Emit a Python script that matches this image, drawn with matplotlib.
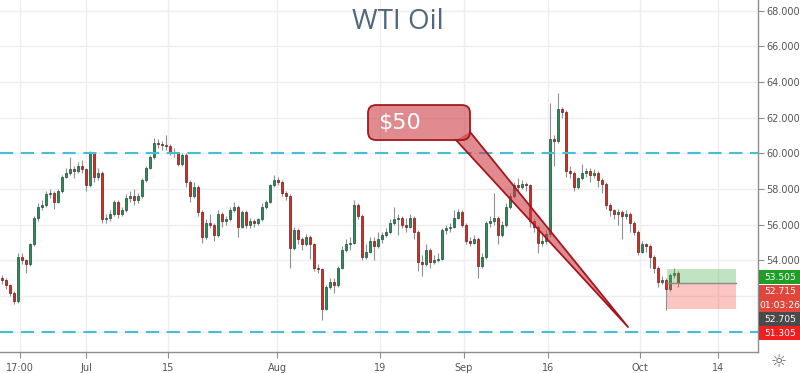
import matplotlib
matplotlib.use('Agg')
import matplotlib.pyplot as plt
from matplotlib.patches import FancyBboxPatch, Polygon, Rectangle
import numpy as np

plt.rcParams['lines.scale_dashes'] = False

# WTI crude, roughly 2 bars per trading day
first_open = 53.0
closes = [52.9, 52.6, 52.2, 51.7, 54.2, 54.0, 53.8, 54.9, 56.4, 57.0,
          57.1, 57.7, 57.8, 57.3, 57.9, 58.7, 58.9, 59.1, 59.0, 59.3,
          59.1, 58.2, 60.0, 58.7, 58.9, 56.3, 56.4, 56.6, 57.3, 56.6,
          56.8, 57.5, 57.6, 57.4, 57.6, 58.5, 59.2, 59.8, 60.6, 60.5,
          60.45, 60.4, 60.1, 60.0, 59.4, 59.9, 58.4, 57.6, 58.1, 56.7,
          55.3, 56.1, 56.0, 55.4, 56.6, 56.2, 56.3, 56.8, 57.0, 55.9,
          56.7, 56.0, 56.2, 56.1, 56.3, 57.0, 57.3, 58.2, 58.5, 58.4,
          57.8, 57.6, 54.7, 55.7, 55.2, 54.9, 55.3, 54.9, 53.6, 53.5,
          51.3, 52.5, 52.8, 52.6, 53.6, 54.6, 54.9, 55.0, 57.1, 56.5,
          54.2, 54.5, 55.1, 54.8, 55.2, 55.4, 55.6, 56.1, 56.3, 56.4,
          56.0, 55.9, 56.4, 55.6, 53.9, 53.8, 54.6, 53.9, 54.0, 54.1,
          55.7, 55.8, 55.9, 56.4, 56.7, 56.0, 55.1, 55.0, 55.2, 53.7,
          54.2, 56.1, 56.2, 56.4, 55.4, 56.0, 57.0, 57.6, 58.2, 58.1,
          58.3, 58.2, 56.2, 55.9, 55.0, 55.1, 55.5, 60.8, 60.7, 62.5,
          62.3, 59.0, 58.9, 58.1, 58.6, 58.9, 59.0, 58.8, 58.9, 58.5,
          58.3, 57.1, 56.8, 56.6, 56.7, 56.5, 56.6, 56.1, 55.6, 54.5,
          54.9, 54.8, 54.2, 53.6, 52.8, 52.9, 52.4, 53.2, 53.3, 52.715]
highs = [53.2, 53.0, 52.7, 52.3, 54.4, 54.4, 54.1, 55.0, 56.5, 57.2,
         57.4, 57.9, 58.0, 57.9, 58.0, 58.8, 59.2, 59.8, 59.3, 59.5,
         59.6, 59.2, 60.15, 60.0, 59.2, 59.0, 56.6, 56.8, 57.4, 57.4,
         57.0, 57.7, 57.9, 58.0, 57.8, 58.6, 59.3, 59.9, 60.85, 60.8,
         60.7, 61.0, 60.5, 60.3, 60.1, 60.0, 60.0, 58.5, 58.4, 58.2,
         56.8, 56.3, 56.6, 56.1, 56.8, 56.7, 56.5, 57.0, 57.3, 57.1,
         56.8, 56.8, 56.4, 56.3, 56.4, 57.2, 57.4, 58.3, 58.8, 58.7,
         58.5, 57.9, 57.7, 55.9, 55.8, 55.3, 55.5, 55.4, 55.0, 53.8,
         53.6, 52.6, 53.0, 53.0, 53.7, 54.8, 55.2, 55.3, 57.4, 57.2,
         56.6, 54.9, 55.3, 55.3, 55.6, 55.6, 55.8, 56.3, 57.0, 56.6,
         56.5, 56.4, 56.6, 56.5, 55.7, 54.3, 54.9, 54.7, 54.3, 54.4,
         55.8, 56.0, 56.1, 56.8, 56.9, 56.8, 56.1, 55.3, 55.4, 55.3,
         54.4, 56.2, 56.5, 57.8, 56.5, 56.2, 57.2, 57.8, 58.4, 58.6,
         58.5, 58.4, 58.3, 56.3, 56.0, 55.4, 55.7, 62.8, 61.0, 63.4,
         62.6, 62.4, 59.3, 59.0, 58.7, 59.4, 59.2, 59.2, 59.1, 59.0,
         58.6, 58.4, 57.2, 56.9, 56.9, 56.8, 56.8, 56.7, 56.2, 55.7,
         55.1, 55.0, 54.9, 54.3, 53.7, 53.1, 53.0, 53.3, 53.6, 53.4]
lows = [52.7, 52.4, 52.0, 51.55, 51.6, 53.8, 53.3, 53.7, 54.8, 56.2,
        56.8, 57.0, 57.5, 56.9, 57.2, 57.8, 58.6, 58.8, 58.6, 58.9,
        58.9, 57.9, 58.1, 58.4, 58.5, 56.1, 56.1, 56.2, 56.5, 56.4,
        56.5, 56.7, 57.3, 57.1, 57.2, 57.5, 58.4, 59.1, 59.7, 60.3,
        60.2, 60.2, 59.9, 59.8, 59.3, 59.3, 58.1, 57.3, 57.5, 56.5,
        55.0, 55.2, 55.8, 55.1, 55.3, 55.9, 56.0, 56.2, 56.7, 55.3,
        55.8, 55.8, 55.8, 55.9, 56.0, 56.2, 56.9, 57.2, 58.1, 58.2,
        57.6, 57.4, 53.6, 54.6, 54.9, 54.6, 54.8, 54.1, 53.4, 53.3,
        50.65, 51.2, 52.4, 52.2, 52.5, 53.5, 54.5, 54.6, 54.9, 56.3,
        54.0, 54.1, 54.4, 54.0, 54.7, 55.0, 55.3, 55.5, 56.0, 55.4,
        55.8, 55.6, 55.8, 55.2, 53.4, 53.1, 53.7, 53.6, 53.8, 53.9,
        54.0, 55.5, 55.6, 55.8, 56.3, 55.9, 54.9, 54.8, 54.9, 53.0,
        53.6, 54.1, 55.9, 56.0, 54.9, 55.3, 55.9, 56.9, 57.5, 57.9,
        58.0, 57.9, 55.9, 55.6, 54.4, 54.8, 54.9, 55.3, 59.3, 60.6,
        62.0, 58.7, 58.6, 57.9, 58.0, 58.5, 58.7, 58.4, 58.6, 58.1,
        57.8, 56.9, 56.5, 56.3, 56.0, 55.2, 56.3, 55.6, 55.4, 54.3,
        54.4, 54.5, 53.6, 53.3, 52.5, 52.7, 51.2, 52.3, 53.0, 52.5]

price_ticks = [50, 52, 54, 56, 58, 60, 62, 64, 66, 68]
date_labels = ['17:00', 'Jul', '15', 'Aug', '19', 'Sep', '16', 'Oct', '14']
date_bars = [4.5, 21, 41.5, 68.75, 94.5, 115.5, 136.5, 159.5, 179]

resistance = 60.0
support = 50.0
entry, target, stop = 52.715, 53.505, 51.305

opens = [first_open] + closes[:-1]
o = np.array(opens)
c = np.array(closes)
x = np.arange(len(closes))

fig = plt.figure(figsize=(8, 3.73), dpi=100)
ax = fig.add_axes([0, 21 / 373, 758 / 800, 352 / 373])
ax.set_xlim(-0.5, 189.0)
ax.set_ylim(48.87, 68.59)

up = c >= o
body_col = np.where(up, '#2f8a5c', '#c8322b')
edge_col = np.where(up, '#1d4d33', '#6e1a14')
ax.vlines(x, lows, highs, color='#909092', linewidth=0.8, zorder=2)
ax.bar(x, np.maximum(np.abs(c - o), 0.04), bottom=np.minimum(o, c), width=0.6,
       color=body_col, edgecolor=edge_col, linewidth=0.5, zorder=3)

# support / resistance
for lvl in (resistance, support):
    ax.axhline(lvl, color='#45bfd6', linewidth=1.5, dashes=(9.5, 5.5), zorder=4)

# long position tool
x0, x1 = 166.25, 183.5
ax.add_patch(Rectangle((x0, entry), x1 - x0, target - entry, facecolor='#4caf50',
                       alpha=0.35, edgecolor='none', zorder=4))
ax.add_patch(Rectangle((x0, stop), x1 - x0, entry - stop, facecolor='#f44336',
                       alpha=0.3, edgecolor='none', zorder=4))
ax.plot([x0, x1], [entry, entry], color='#8a8a8a', linewidth=1, zorder=4)

# callout "$50"
fill = (0.8, 0.22, 0.26, 0.58)
edge = '#a3161c'
tip = (156.5, 50.27)
b1 = (113.5, 60.745)
b2 = (117.0, 61.2)
ax.add_patch(Polygon([b1, tip, b2], closed=True, facecolor=fill, edgecolor='none', zorder=6))
ax.plot([b1[0], tip[0], b2[0]], [b1[1], tip[1], b2[1]], color=edge, linewidth=1.3, zorder=7)
box = FancyBboxPatch((91.5, 60.745), 25.5, 1.96,
                     boxstyle='round,pad=0,rounding_size=2', mutation_aspect=4 / 17.85,
                     facecolor=fill, edgecolor=edge, linewidth=1.3, zorder=6)
ax.add_patch(box)
ax.text(94, 61.72, '$50', color='white', fontsize=16, va='center', ha='left', zorder=8)

# axes styling
ax.set_xticks(date_bars)
ax.set_xticklabels(date_labels)
ax.set_yticks(price_ticks)
ax.set_yticklabels(['{:.3f}'.format(p) for p in price_ticks])
ax.yaxis.tick_right()
ax.grid(True, color='#eeeeee', linewidth=1, zorder=0)
ax.set_axisbelow(True)
for s in ('top', 'left'):
    ax.spines[s].set_visible(False)
for s in ('right', 'bottom'):
    ax.spines[s].set_color('#8e8e8e')
    ax.spines[s].set_linewidth(1)
ax.tick_params(axis='both', colors='#8e8e8e', labelcolor='#555555', labelsize=7, length=4)
ax.tick_params(axis='y', pad=2)
ax.tick_params(axis='x', pad=4)

fig.text(0.497, 1 - 22 / 373, 'WTI Oil', ha='center', va='center', fontsize=20,
         color='#50677d', family='Open Sans')

# price scale labels
tags = [('53.505', 277, '#1e9e27'), ('52.715', 292, '#e0463c'), ('01:03:26', 306, '#e0463c'),
        ('52.705', 319, '#4a4a4a'), ('51.305', 333, '#f21d1d')]
for txt, ypx, col in tags:
    fig.patches.append(Rectangle((759 / 800, (373 - ypx - 7) / 373), 41 / 800, 14 / 373,
                                 transform=fig.transFigure, facecolor=col, edgecolor='none',
                                 zorder=10))
    fig.text(780 / 800, (373 - ypx) / 373, txt, ha='center', va='center', fontsize=6.6,
             color='white', zorder=11)

fig.text(779 / 800, 1 - 362 / 373, '\u263c', ha='center', va='center', fontsize=13,
         color='#666666')

fig.savefig('out.png', dpi=100)
